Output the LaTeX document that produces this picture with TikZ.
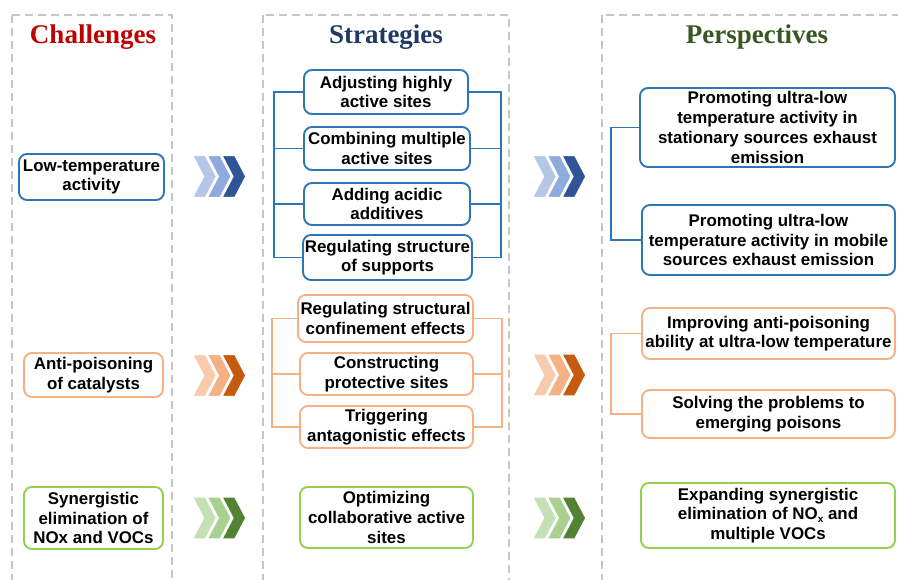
\documentclass[tikz,border=0pt]{standalone}
\usepackage{fontspec}
\setmainfont{Liberation Sans}
\newfontfamily\headfont{Liberation Serif}
\definecolor{cblue}{HTML}{2E75B6}
\definecolor{corange}{HTML}{F4B183}
\definecolor{cgreen}{HTML}{92D050}
\definecolor{hred}{HTML}{C00000}
\definecolor{hnavy}{HTML}{203864}
\definecolor{hgreen}{HTML}{385723}
\definecolor{bl1}{HTML}{B4C7E7}
\definecolor{bl2}{HTML}{8FAADC}
\definecolor{bl3}{HTML}{2F5597}
\definecolor{or1}{HTML}{F8CBAD}
\definecolor{or2}{HTML}{F4B183}
\definecolor{or3}{HTML}{C55A11}
\definecolor{gr1}{HTML}{C5E0B4}
\definecolor{gr2}{HTML}{A9D18E}
\definecolor{gr3}{HTML}{548235}
% one chevron: left x, centre y, half height, colour
\newcommand\chevpiece[4]{%
  \fill[#4, draw=white, line width=1.3pt] (#1,#2-#3) -- ++(13,0) -- ++(11,#3)
    -- ++(-11,#3) -- ++(-13,0) -- ++(11,-#3) -- cycle;}
% three chevrons from light to dark
\newcommand\chevgroup[6]{%
  \chevpiece{#1}{#2}{#3}{#4}%
  \chevpiece{#1+14.7}{#2}{#3}{#5}%
  \chevpiece{#1+29.4}{#2}{#3}{#6}}
\newcommand\subx{\raisebox{-0.35ex}{\fontsize{10}{10}\selectfont x}}
\begin{document}
\begin{tikzpicture}[x=1pt,y=-1pt,
  column/.style={draw=gray!45, line width=2pt, dash pattern=on 8pt off 5pt},
  head/.style={font=\headfont\bfseries\fontsize{27}{30}\selectfont},
  box/.style={line width=1.9pt, rounded corners=8pt, fill=white, align=center,
    inner sep=0pt, font=\bfseries\fontsize{16.9}{19.7}\selectfont},
  bluebox/.style={box, draw=cblue},
  orangebox/.style={box, draw=corange},
  greenbox/.style={box, draw=cgreen},
  bluelink/.style={draw=cblue, line width=1.5pt},
  orangelink/.style={draw=corange, line width=1.5pt}
]
\useasboundingbox (0,0) rectangle (898,580);
\begin{scope}
\clip (0,0) rectangle (898,580);
% dashed columns
\draw[column] (12,15) rectangle (172,600);
\draw[column] (263,15) rectangle (509,600);
\draw[column] (602,15) rectangle (920,600);

% column headings
\node[head, text=hred] (hc) at (93,37) {Challenges};
\node[head, text=hnavy] (hs) at (386,37) {Strategies};
\node[head, text=hgreen] (hp) at (757,37) {Perspectives};

% challenges
\node[bluebox, minimum width=145pt, minimum height=46pt] (c1) at (91.5,177) {Low-temperature\\activity};
\node[orangebox, minimum width=139pt, minimum height=44pt] (c2) at (93.5,375) {Anti-poisoning\\of catalysts};
\node[greenbox, minimum width=139pt, minimum height=62pt] (c3) at (93.5,518) {Synergistic\\elimination of\\NOx and VOCs};

% strategies
\node[bluebox, minimum width=164pt, minimum height=44pt] (s1) at (386,92) {Adjusting highly\\active sites};
\node[bluebox, minimum width=166pt, minimum height=43pt] (s2) at (387,148.5) {Combining multiple\\active sites};
\node[bluebox, minimum width=166pt, minimum height=42pt] (s3) at (387,204) {Adding acidic\\additives};
\node[bluebox, minimum width=169pt, minimum height=45pt] (s4) at (387.5,257.5) {Regulating structure\\of supports};
\node[orangebox, minimum width=175pt, minimum height=47pt] (s5) at (385.5,318.5) {Regulating structural\\confinement effects};
\node[orangebox, minimum width=173pt, minimum height=42pt] (s6) at (386.5,374) {Constructing\\protective sites};
\node[orangebox, minimum width=173pt, minimum height=42pt] (s7) at (386.5,427) {Triggering\\antagonistic effects};
\node[greenbox, minimum width=173pt, minimum height=61pt] (s8) at (386.5,517.5) {Optimizing\\collaborative active\\sites};

% perspectives
\node[bluebox, minimum width=255pt, minimum height=79pt] (p1) at (767.5,127.5) {Promoting ultra-low\\temperature activity in\\stationary sources exhaust\\emission};
\node[bluebox, minimum width=253pt, minimum height=70pt] (p2) at (768.5,240) {Promoting ultra-low\\temperature activity in mobile\\sources exhaust emission};
\node[orangebox, minimum width=253pt, minimum height=51pt] (p3) at (768.5,333.5) {Improving anti-poisoning\\ability at ultra-low temperature};
\node[orangebox, minimum width=253pt, minimum height=48pt] (p4) at (768.5,414) {Solving the problems to\\emerging poisons};
\node[greenbox, minimum width=254pt, minimum height=65pt] (p5) at (768,515.5) {Expanding synergistic\\elimination of NO\subx{} and\\multiple VOCs};

% bracket rails
\coordinate (bsl) at (274,0);
\coordinate (bsr) at (501,0);
\coordinate (osl) at (272,0);
\coordinate (osr) at (502,0);
\coordinate (bpl) at (611,0);

\draw[bluelink] (s1.west) -- (s1.west -| bsl) -- (s4.west -| bsl) -- (s4.west);
\draw[bluelink] (s2.west) -- (s2.west -| bsl);
\draw[bluelink] (s3.west) -- (s3.west -| bsl);
\draw[bluelink] (s1.east) -- (s1.east -| bsr) -- (s4.east -| bsr) -- (s4.east);
\draw[bluelink] (s2.east) -- (s2.east -| bsr);
\draw[bluelink] (s3.east) -- (s3.east -| bsr);

\draw[orangelink] (s5.west) -- (s5.west -| osl) -- (s7.west -| osl) -- (s7.west);
\draw[orangelink] (s6.west) -- (s6.west -| osl);
\draw[orangelink] (s5.east) -- (s5.east -| osr) -- (s7.east -| osr) -- (s7.east);
\draw[orangelink] (s6.east) -- (s6.east -| osr);

\draw[bluelink] (p1.west) -- (p1.west -| bpl) -- (p2.west -| bpl) -- (p2.west);
\draw[orangelink] (p3.west) -- (p3.west -| bpl) -- (p4.west -| bpl) -- (p4.west);

% chevron arrows between the columns
\chevgroup{192.5}{176.5}{21}{bl1}{bl2}{bl3}
\chevgroup{192.5}{375.5}{21}{or1}{or2}{or3}
\chevgroup{192.5}{518}{21}{gr1}{gr2}{gr3}
\chevgroup{532.5}{176.5}{21}{bl1}{bl2}{bl3}
\chevgroup{532.5}{375}{21}{or1}{or2}{or3}
\chevgroup{532.5}{518}{21}{gr1}{gr2}{gr3}
\end{scope}
\end{tikzpicture}
\end{document}
